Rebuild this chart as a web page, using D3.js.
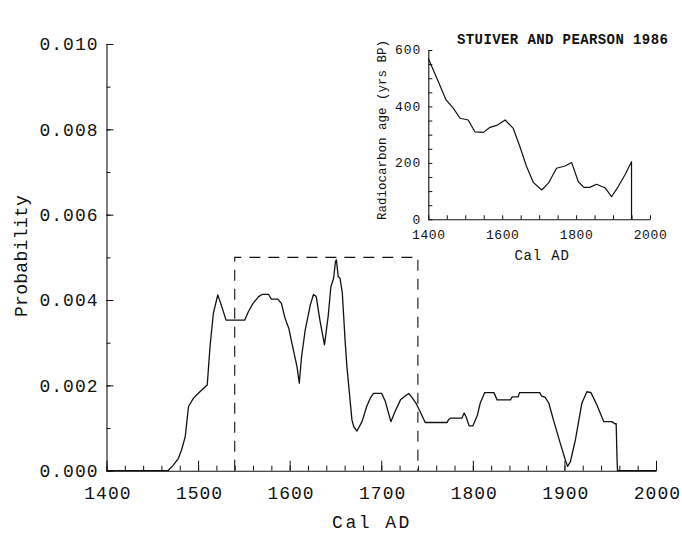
<!DOCTYPE html>
<html><head><meta charset="utf-8">
<script src="https://cdn.jsdelivr.net/npm/d3@7"></script>
<style>
body{margin:0;background:#fff;}
svg{display:block;}
text{font-family:"Liberation Mono","DejaVu Sans Mono",monospace;fill:#111;}
</style></head><body>
<svg id="c" width="682" height="533"></svg>
<script>
// Main probability distribution (Cal AD vs probability)
const mainYears = [1400,1467,1473,1478.5,1482,1486,1489.5,1490.5,1495,1500,1506,1510,1513,1516.7,1521.5,1526,1530.5,1551,1555,1560,1566,1570,1577,1580,1587,1591,1595,1599,1604,1608,1610.5,1613,1617,1622.5,1626,1629,1633,1638,1642,1645,1648,1650,1651,1653,1655,1657.5,1660.5,1662.5,1668,1670,1673.5,1679,1684,1688,1691.5,1700.5,1704.5,1710.5,1715,1721,1726,1730,1733.5,1738,1742.5,1748,1772,1773.5,1775.5,1788,1790.5,1792.5,1796,1800,1805,1808,1813,1823,1826.5,1841,1843,1849.5,1851,1873,1875,1879,1883,1888,1895.5,1901,1903.5,1906.5,1912,1919,1924.5,1929,1935.5,1943,1952,1955,1956.5,1957.5,1958,2000];
const mainProb = [0,0,0.00013,0.00029,0.00049,0.0008,0.0015,0.00154,0.0017,0.00181,0.00193,0.00201,0.0029,0.00369,0.00412,0.00384,0.00353,0.00353,0.00373,0.00392,0.00408,0.00413,0.00413,0.00402,0.00402,0.00392,0.00357,0.00334,0.00283,0.00244,0.00205,0.00267,0.0033,0.00388,0.00413,0.00408,0.00353,0.00295,0.00361,0.00431,0.00451,0.0049,0.00494,0.00455,0.00451,0.00416,0.00306,0.00244,0.00119,0.00103,0.00093,0.00115,0.0015,0.0017,0.00181,0.00181,0.00162,0.00115,0.00138,0.00166,0.00175,0.00181,0.00172,0.00158,0.00138,0.00113,0.00113,0.0012,0.00123,0.00123,0.00135,0.00127,0.00105,0.00105,0.0013,0.00158,0.00183,0.00183,0.00166,0.00166,0.00173,0.00173,0.00183,0.00183,0.00175,0.00172,0.00158,0.00119,0.00064,0.00025,0.0001,0.00021,0.00072,0.00158,0.00185,0.00183,0.00154,0.00115,0.00115,0.0011,0.0011,0.00025,0,0];
const mainXTicks = [1400,1500,1600,1700,1800,1900,2000];
const mainYTicks = [0,0.002,0.004,0.006,0.008,0.010];
const rangeBox = [1540,1740,0.005]; // start, end, height of dashed box

// Inset calibration curve (Stuiver and Pearson 1986)
const insetYears = [1400,1413.5,1427,1448,1468,1486,1508,1526,1549,1567,1587,1608,1630,1648,1666,1684,1707,1725,1747,1770,1788,1806,1821,1837,1855,1878,1896,1914,1932,1950,1950];
const insetAge = [570,529,488,423,393,358,352,310,308,326,334,352,322,257,187,131,104,128,181,189,201,133,113,113,124,112,80,116,157,204,0];
const insetXTicks = [1400,1600,1800,2000];
const insetYTicks = [0,200,400,600];

const svg = d3.select("#c");
const x = d3.scaleLinear([1400,2000],[106.5,656]);
const y = d3.scaleLinear([0,0.010],[470.7,44]);

function styleAxis(g){
  g.selectAll("path.domain").attr("stroke","#111").attr("stroke-width",1.1);
  g.selectAll(".tick line").attr("stroke","#111").attr("stroke-width",1);
}

// main x axis minor + major
const gx = svg.append("g").attr("transform","translate(0,470.7)");
gx.call(d3.axisBottom(x).tickValues(d3.range(1400,2001,20)).tickSizeInner(-5).tickSizeOuter(0).tickFormat(""));
styleAxis(gx);
const gx2 = svg.append("g").attr("transform","translate(0,470.7)");
gx2.call(d3.axisBottom(x).tickValues(mainXTicks).tickSizeInner(-10).tickSizeOuter(0).tickPadding(16).tickFormat(d3.format("d")));
styleAxis(gx2);
gx2.select("path.domain").remove();
gx2.selectAll("text").attr("font-size",18).attr("letter-spacing",1).attr("font-family",null).attr("fill","#111").attr("dx","0.05em");

// main y axis
const gy = svg.append("g").attr("transform","translate(106.5,0)");
gy.call(d3.axisLeft(y).tickValues(d3.range(0,0.0101,0.001)).tickSizeInner(-4).tickSizeOuter(0).tickFormat(""));
styleAxis(gy);
const gy2 = svg.append("g").attr("transform","translate(106.5,0)");
gy2.call(d3.axisLeft(y).tickValues(mainYTicks).tickSizeInner(-7).tickSizeOuter(0).tickPadding(8).tickFormat(d3.format(".3f")));
styleAxis(gy2);
gy2.select("path.domain").remove();
gy2.selectAll("text").attr("font-size",18).attr("letter-spacing",1).attr("font-family",null).attr("fill","#111");

// dashed range box
const boxPath = d3.path();
boxPath.moveTo(x(rangeBox[0]), y(0));
boxPath.lineTo(x(rangeBox[0]), y(rangeBox[2]));
boxPath.lineTo(x(rangeBox[1]), y(rangeBox[2]));
boxPath.lineTo(x(rangeBox[1]), y(0));
svg.append("path").attr("d",boxPath.toString()).attr("fill","none")
  .attr("stroke","#111").attr("stroke-width",1.1).attr("stroke-dasharray","11,8");

// main curve
const mainData = mainYears.map((d,i)=>[d,mainProb[i]]);
svg.append("path").datum(mainData)
  .attr("d",d3.line().x(d=>x(d[0])).y(d=>y(d[1])))
  .attr("fill","none").attr("stroke","#111").attr("stroke-width",1.3).attr("stroke-linejoin","round");

// main labels
svg.append("text").attr("x",372).attr("y",528).attr("text-anchor","middle")
  .attr("font-size",18).attr("letter-spacing",2.5).text("Cal AD");
svg.append("text").attr("transform","translate(27,256) rotate(-90)").attr("text-anchor","middle")
  .attr("font-size",18).attr("letter-spacing",0.3).text("Probability");

// inset
const xi = d3.scaleLinear([1400,2000],[428.3,650]);
const yi = d3.scaleLinear([0,600],[219.3,50]);
const gix = svg.append("g").attr("transform","translate(0,219.3)");
gix.call(d3.axisBottom(xi).tickValues(d3.range(1400,2001,50)).tickSizeInner(-4).tickSizeOuter(0).tickFormat(""));
styleAxis(gix);
const gix2 = svg.append("g").attr("transform","translate(0,219.3)");
gix2.call(d3.axisBottom(xi).tickValues(insetXTicks).tickSizeInner(0).tickSizeOuter(0).tickPadding(10).tickFormat(d3.format("d")));
gix2.select("path.domain").remove();
gix2.selectAll("text").attr("font-size",13).attr("letter-spacing",0.6).attr("font-family",null).attr("fill","#111");

const giy = svg.append("g").attr("transform","translate(428.3,0)");
giy.call(d3.axisLeft(yi).tickValues(d3.range(0,601,50)).tickSizeInner(-4).tickSizeOuter(0).tickFormat(""));
styleAxis(giy);
const giy2 = svg.append("g").attr("transform","translate(428.3,0)");
giy2.call(d3.axisLeft(yi).tickValues(insetYTicks).tickSizeInner(0).tickSizeOuter(0).tickPadding(7).tickFormat(d3.format("d")));
giy2.select("path.domain").remove();
giy2.selectAll("text").attr("font-size",13).attr("letter-spacing",1).attr("font-family",null).attr("fill","#111").attr("dy","0.3em");

const insetData = insetYears.map((d,i)=>[d,insetAge[i]]);
svg.append("path").datum(insetData)
  .attr("d",d3.line().x(d=>xi(d[0])).y(d=>yi(d[1])))
  .attr("fill","none").attr("stroke","#111").attr("stroke-width",1.2).attr("stroke-linejoin","round");

svg.append("text").attr("x",542).attr("y",260).attr("text-anchor","middle")
  .attr("font-size",14).attr("letter-spacing",0.8).text("Cal AD");
svg.append("text").attr("transform","translate(386,130) rotate(-90)").attr("text-anchor","middle")
  .attr("font-size",12.5).text("Radiocarbon age (yrs BP)");
svg.append("text").attr("x",457).attr("y",43.5).attr("font-size",14).attr("font-weight","bold")
  .attr("letter-spacing",0.4).text("STUIVER AND PEARSON 1986");
</script>
</body></html>
